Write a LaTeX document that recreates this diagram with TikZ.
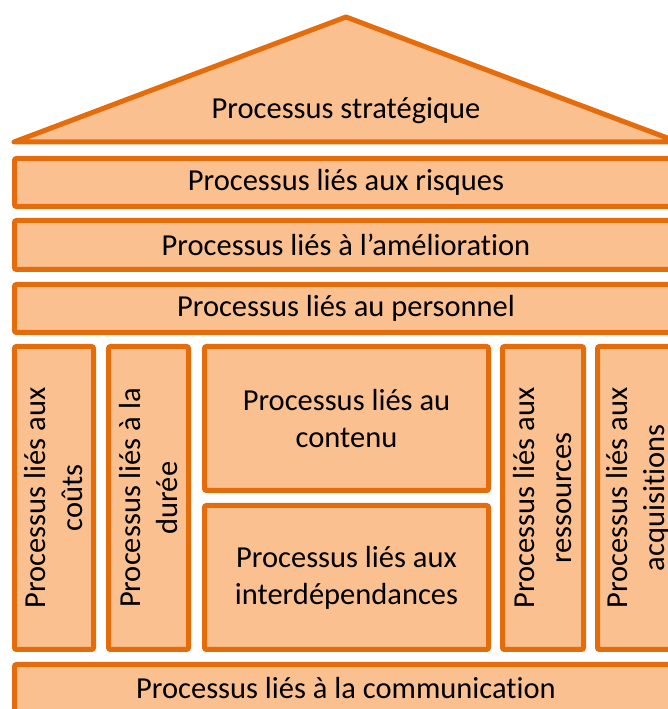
\documentclass[tikz,border=0pt]{standalone}
\usepackage{fontspec}
\setmainfont{Carlito}[Ligatures=NoCommon,RawFeature=-liga]
\definecolor{orng}{HTML}{E46C0A}
\definecolor{peach}{HTML}{FAC090}
\tikzset{
  box/.style={draw=orng, line width=5pt, fill=peach, rounded corners=2pt, inner sep=0pt,
    align=center, font=\fontsize{30.5}{37}\selectfont, text=black},
  bar/.style={box, minimum width=663pt, minimum height=48pt},
  col/.style={box, rotate=90, minimum width=303pt},
  cbox/.style={box, minimum width=284pt, minimum height=144pt},
  lbl/.style={inner sep=0pt, align=center, font=\fontsize{30.5}{37}\selectfont, text=black}
}
\begin{document}
\begin{tikzpicture}[x=1pt,y=1pt]
\useasboundingbox (0,0) rectangle (668,709);
\clip (0,0) rectangle (668,709);
\fill[white] (0,0) rectangle (668,709);
% roof
\coordinate (rl) at (14,567);
\coordinate (ra) at (346,692);
\coordinate (rr) at (678,567);
\draw[draw=orng, fill=peach, line width=5pt, line join=round] (rl) -- (ra) -- (rr) -- cycle;
\node[lbl] (strat) at (346,598) {Processus stratégique};
% horizontal bars
\node[bar] (risk) at (346,526.5) {Processus liés aux risques};
\node[bar, minimum height=49pt] (amel) at (346,464) {Processus liés à l’amélioration};
\node[bar] (pers) at (346,400.5) {Processus liés au personnel};
% columns
\node[col, minimum height=79pt] (cout) at (54,211) {Processus liés aux\\coûts};
\node[col, minimum height=80pt] (duree) at (148.5,211) {Processus liés à la\\durée};
\node[cbox] (cont) at (346.5,290.5) {Processus liés au\\contenu};
\node[cbox] (inter) at (346.5,131.5) {Processus liés aux\\interdépendances};
\node[col, minimum height=81pt] (ress) at (543,211) {Processus liés aux\\ressources};
\node[col, minimum height=80pt] (acq) at (637.5,211) {Processus liés aux\\acquisitions};
% base
\node[bar] (comm) at (346,20.5) {Processus liés à la communication};
\end{tikzpicture}
\end{document}
